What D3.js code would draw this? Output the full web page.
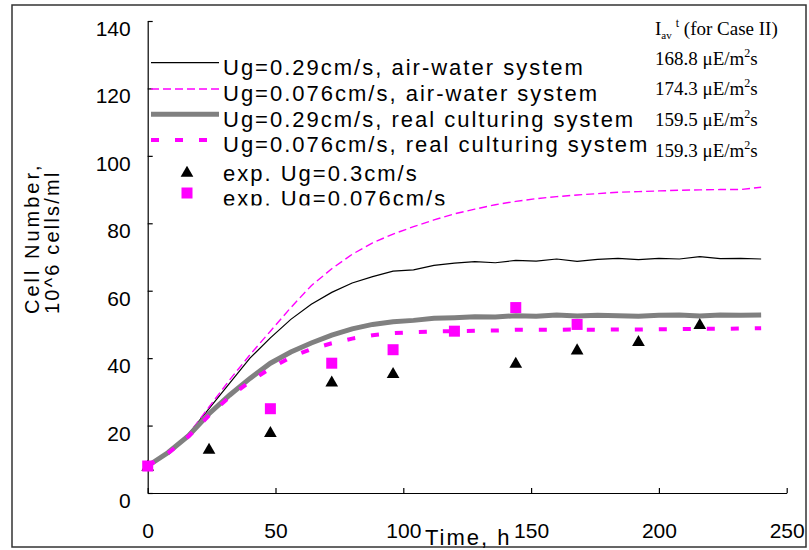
<!DOCTYPE html>
<html lang="en">
<head>
  <meta charset="UTF-8">
  <title>Cell number vs time</title>
  <script src="https://d3js.org/d3.v7.min.js"></script>
  <style>
    body { margin: 0; background: #fff; }
    svg { display: block; }
    .tick text { font-family: "Liberation Sans", Arial, sans-serif; font-size: 21px; fill: #000; }
    .lg { font-family: "Liberation Sans", Arial, sans-serif; font-size: 22px; letter-spacing: 2px; fill: #000; }
    .tm { font-family: "Liberation Serif", "Times New Roman", serif; font-size: 19px; fill: #000; }
  </style>
</head>
<body>
  <svg id="chart" width="809" height="550"></svg>

  <script>
    // model time grid (h)
    const hours = [0, 8, 16, 24, 32, 40, 48, 56, 64, 72, 80, 88, 96, 104, 112, 120,
                   128, 136, 144, 152, 160, 168, 176, 184, 192, 200, 208, 216, 224, 232, 240];

    // simulated cell number, 10^6 cells/ml
    const airWater029 = [8, 12, 17.5, 25, 32.5, 40, 46, 51.5, 56, 59.5, 62.3, 64.2, 65.8, 66.2, 67.5, 68.2,
                         68.6, 68.3, 69, 68.8, 69.4, 68.7, 69.3, 69.6, 69.2, 69.6, 69.4, 70.1, 69.5, 69.6, 69.4];
    const airWater0076 = [8, 12, 17.5, 25.5, 33.5, 41, 48, 55, 61.5, 66.5, 70.8, 74.2, 76.8, 79, 81, 82.8,
                          84.2, 85.5, 86.5, 87.3, 87.9, 88.4, 88.8, 89.2, 89.4, 89.6, 89.8, 89.9, 90, 90, 90.7];
    const real029 = [8, 12, 17, 23.5, 29, 34, 38.5, 41.8, 44.5, 46.8, 48.7, 50, 50.8, 51.2, 51.8, 52,
                     52.3, 52.2, 52.6, 52.4, 52.8, 52.5, 52.7, 52.6, 52.4, 52.7, 52.8, 52.5, 52.8, 52.7, 52.8];
    const real0076 = [8, 11.8, 16.8, 23, 28.5, 33, 37, 40.3, 42.7, 44.4, 45.8, 46.8, 47.4, 47.7, 47.9, 48,
                      48.1, 48.2, 48.4, 48.4, 48.4, 48.5, 48.4, 48.5, 48.5, 48.6, 48.6, 48.7, 48.7, 48.8, 48.9];

    // experiments
    const expTimes03 = [0, 24, 48, 72, 96, 144, 168, 192, 216];
    const exp03 = [8, 13, 18, 33, 35.5, 38.5, 42.5, 45, 50];
    const expTimes0076 = [0, 48, 72, 96, 120, 144, 168];
    const exp0076 = [8, 25, 38.5, 42.5, 48, 55, 50];

    const xTicks = [0, 50, 100, 150, 200, 250];
    const yTicks = [0, 20, 40, 60, 80, 100, 120, 140];

    const legendLabels = [
      'Ug=0.29cm/s, air-water system',
      'Ug=0.076cm/s, air-water system',
      'Ug=0.29cm/s, real culturing system',
      'Ug=0.076cm/s, real culturing system',
      'exp. Ug=0.3cm/s',
      'exp. Ug=0.076cm/s'
    ];
    const intensities = ['168.8', '174.3', '159.5', '159.3'];

    const svg = d3.select('#chart');

    const x = d3.scaleLinear().domain([0, 250]).range([147.7, 786.7]);
    const y = d3.scaleLinear().domain([0, 140]).range([493, 21]);

    // outer frame
    svg.append('rect')
      .attr('x', 12).attr('y', 5).attr('width', 794).attr('height', 542)
      .attr('fill', 'none').attr('stroke', '#333').attr('stroke-width', 1.5);

    // axes, ticks pointing inward
    const gx = svg.append('g')
      .attr('transform', `translate(0,${y(0)})`)
      .call(d3.axisBottom(x).tickValues(xTicks).tickSize(-5).tickSizeOuter(0).tickPadding(30));
    gx.selectAll('.tick text').attr('dy', '0.71em');

    const gy = svg.append('g')
      .attr('transform', `translate(${x(0)},0)`)
      .call(d3.axisLeft(y).tickValues(yTicks).tickSize(-5).tickSizeOuter(0).tickPadding(17));
    gy.selectAll('.tick text').attr('dy', '0.69em');

    svg.selectAll('.domain, .tick line').attr('stroke', '#000').attr('stroke-width', 1.2);

    // axis titles
    svg.append('text').attr('class', 'lg')
      .attr('transform', 'translate(39,314) rotate(-90)')
      .style('font-size', '20px').style('letter-spacing', '3px')
      .text('Cell Number,');
    svg.append('text').attr('class', 'lg')
      .attr('transform', 'translate(59,314) rotate(-90)')
      .style('font-size', '20px').style('letter-spacing', '2.2px')
      .text('10^6 cells/ml');
    svg.append('text').attr('class', 'lg')
      .attr('x', 425).attr('y', 545)
      .style('font-size', '22px').style('letter-spacing', '2px')
      .text('Time, h');

    // simulated curves
    const line = d3.line().x((d, i) => x(hours[i])).y(d => y(d));
    const styles = [
      { data: airWater029, color: '#000', width: 1.2, dash: null },
      { data: airWater0076, color: '#ff00ff', width: 1.4, dash: '8,4' },
      { data: real029, color: '#808080', width: 5, dash: null },
      { data: real0076, color: '#ff00ff', width: 4, dash: '8,16' }
    ];
    styles.forEach(s => {
      svg.append('path')
        .attr('d', line(s.data))
        .attr('fill', 'none')
        .attr('stroke', s.color)
        .attr('stroke-width', s.width)
        .attr('stroke-dasharray', s.dash);
    });

    // experimental points
    const tri = d3.symbol().type(d3.symbolTriangle).size(70);
    svg.append('g').selectAll('path')
      .data(exp03)
      .join('path')
      .attr('d', tri)
      .attr('transform', (d, i) => `translate(${x(expTimes03[i])},${y(d) + 1})`)
      .attr('fill', '#000');

    svg.append('g').selectAll('rect')
      .data(exp0076)
      .join('rect')
      .attr('x', (d, i) => x(expTimes0076[i]) - 5.5)
      .attr('y', d => y(d) - 5.5)
      .attr('width', 11).attr('height', 11)
      .attr('fill', '#ff00ff');

    // legend (last row is cut off at the bottom, as in the original)
    svg.append('clipPath').attr('id', 'lgclip')
      .append('rect').attr('x', 0).attr('y', 0).attr('width', 809).attr('height', 205.5);
    const lg = svg.append('g').attr('clip-path', 'url(#lgclip)');
    const lineRows = [62.7, 89, 114.3, 140];
    const textRows = [75, 101, 126.5, 152, 181, 206];
    styles.forEach((s, i) => {
      lg.append('line')
        .attr('x1', 151).attr('x2', 219)
        .attr('y1', lineRows[i]).attr('y2', lineRows[i])
        .attr('stroke', s.color)
        .attr('stroke-width', s.width)
        .attr('stroke-dasharray', s.dash);
    });
    lg.append('path').attr('d', tri).attr('transform', 'translate(187,173)').attr('fill', '#000');
    lg.append('rect').attr('x', 181.5).attr('y', 187.5).attr('width', 11).attr('height', 11).attr('fill', '#ff00ff');
    lg.selectAll('text.lg')
      .data(legendLabels)
      .join('text')
      .attr('class', 'lg')
      .attr('x', 223)
      .attr('y', (d, i) => textRows[i])
      .text(d => d);

    // average light intensity annotation
    const head = svg.append('text').attr('class', 'tm').attr('x', 655).attr('y', 35);
    head.append('tspan').text('I');
    head.append('tspan').attr('dy', 4).style('font-size', '11px').text('av');
    head.append('tspan').attr('dy', -12).attr('dx', 4).style('font-size', '12px').text('t');
    head.append('tspan').attr('dy', 8).text(' (for Case II)');

    const valRows = [65, 95, 126, 157];
    intensities.forEach((v, i) => {
      const t = svg.append('text').attr('class', 'tm').attr('x', 655).attr('y', valRows[i]);
      t.append('tspan').text(v + ' \u03bcE/m');
      t.append('tspan').attr('dy', -8).style('font-size', '12px').text('2');
      t.append('tspan').attr('dy', 8).text('s');
    });
  </script>
</body>
</html>
